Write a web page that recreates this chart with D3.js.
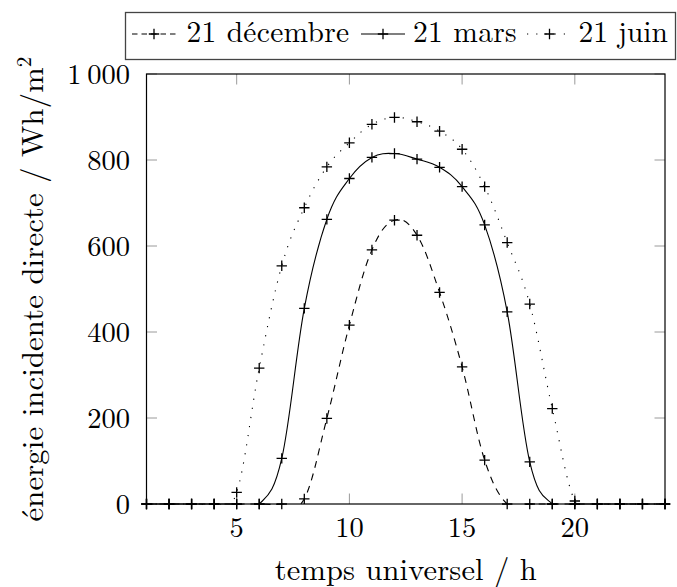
<!DOCTYPE html>
<html><head><meta charset="utf-8">
<script src="https://cdn.jsdelivr.net/npm/d3@7"></script>
<style>body{margin:0;background:#fff}svg{display:block}</style>
</head><body>
<svg id="c" width="677" height="587"></svg>
<script>
// ---- data ----
const hours    = [1,2,3,4,5,6,7,8,9,10,11,12,13,14,15,16,17,18,19,20,21,22,23,24];
const decembre = [0,0,0,0,0,0,0,12,199,416,591,660,625,492,319,102,0,0,0,0,0,0,0,0];
const mars     = [0,0,0,0,0,0,106,455,662,757,806,815,802,783,738,649,447,98,0,0,0,0,0,0];
const juin     = [0,0,0,0,27,316,554,689,784,840,883,899,889,867,825,738,608,465,222,7,0,0,0,0];
const seriesNames = ["21 décembre","21 mars","21 juin"];
const xTicks = [5,10,15,20];
const xTickLabels = ["5","10","15","20"];
const yTicks = [0,200,400,600,800,1000];
const yTickLabels = ["0","200","400","600","800","1\u2009000"];
const xLabel = "temps universel / h";
const yLabel = "énergie incidente directe / Wh/m";
const yLabelSup = "2";

// ---- layout ----
const L = 146.5, R = 665, T = 74, B = 504;
const FONT = '"Latin Modern Roman","CMU Serif","Liberation Serif",serif';
const svg = d3.select("#c");
const x = d3.scaleLinear().domain([1,24]).range([L,R]);
const y = d3.scaleLinear().domain([0,1000]).range([B,T]);

const styles = [
  {dash:"7,6"},
  {dash:null},
  {dash:"1.2,8"}
];
const allSeries = [decembre, mars, juin].map((vals,i)=>({
  name: seriesNames[i], style: styles[i],
  pts: hours.map((h,j)=>({h, v: vals[j]}))
}));

function txt(sel, size){
  return sel.append("text").style("font-family",FONT).style("font-size",size+"px").attr("fill","#000");
}
function fit(sel, w, n){
  n = n || sel.text().length;
  const len = sel.node().getComputedTextLength();
  sel.attr("letter-spacing", ((w - len) / n).toFixed(3));
}

// grey ticks (inward, both sides)
const TL = 10.5, tickCol = "#9a9a9a";
const g = svg.append("g");
xTicks.forEach(t=>{
  g.append("line").attr("x1",x(t)).attr("x2",x(t)).attr("y1",B).attr("y2",B-TL).attr("stroke",tickCol).attr("stroke-width",1);
  g.append("line").attr("x1",x(t)).attr("x2",x(t)).attr("y1",T).attr("y2",T+TL).attr("stroke",tickCol).attr("stroke-width",1);
});
yTicks.forEach(t=>{
  g.append("line").attr("x1",L).attr("x2",L+TL).attr("y1",y(t)).attr("y2",y(t)).attr("stroke",tickCol).attr("stroke-width",1);
  g.append("line").attr("x1",R).attr("x2",R-TL).attr("y1",y(t)).attr("y2",y(t)).attr("stroke",tickCol).attr("stroke-width",1);
});

// clip
svg.append("clipPath").attr("id","clip").append("rect")
  .attr("x",L).attr("y",T).attr("width",R-L).attr("height",B-T+1);

const line = d3.line().x(d=>x(d.h)).y(d=>y(d.v)).curve(d3.curveCardinal.tension(-0.1));
const lg = svg.append("g").attr("clip-path","url(#clip)");
allSeries.forEach(s=>{
  lg.append("path").attr("d",line(s.pts)).attr("fill","none")
    .attr("stroke","#000").attr("stroke-width",1.1)
    .attr("stroke-dasharray",s.style.dash);
});

// frame
svg.append("rect").attr("x",L).attr("y",T).attr("width",R-L).attr("height",B-T)
  .attr("fill","none").attr("stroke","#000").attr("stroke-width",1.2);

// markers
const M = 5.2;
function plus(sel, cx, cy){
  sel.append("path").attr("d",`M${cx-M},${cy}H${cx+M}M${cx},${cy-M}V${cy+M}`)
    .attr("stroke","#000").attr("stroke-width",1.3).attr("fill","none");
}
const mg = svg.append("g");
allSeries.forEach(s=>{ s.pts.forEach(p=>plus(mg, x(p.h), y(p.v))); });

// tick labels
xTicks.forEach((t,i)=>{
  txt(svg,28.5).attr("x",x(t)).attr("y",537).attr("text-anchor","middle").text(xTickLabels[i]);
});
yTicks.forEach((t,i)=>{
  txt(svg,28.5).attr("x",130).attr("y",y(t)+9.5).attr("text-anchor","end").text(yTickLabels[i]);
});

// axis labels
const xl = txt(svg,30.5).attr("x",(L+R)/2).attr("y",579.5).attr("text-anchor","middle").text(xLabel);
fit(xl, 262);
const yl = txt(svg,30.5).attr("transform",`translate(43,${(T+B)/2}) rotate(-90)`)
  .attr("text-anchor","middle");
yl.append("tspan").text(yLabel);
yl.append("tspan").style("font-size","21px").attr("dy",-12).text(yLabelSup);
fit(yl, 465, (yLabel+yLabelSup).length);

// legend
svg.append("rect").attr("x",125.5).attr("y",12.5).attr("width",550).attr("height",47)
  .attr("fill","#fff").attr("stroke","#444").attr("stroke-width",1.3);
const legPos = [
  {x0:132, x1:176, tx:186.5, tw:163},
  {x0:361, x1:405, tx:413, tw:104},
  {x0:527, x1:572, tx:578.5, tw:89.5}
];
const ly = 34;
allSeries.forEach((s,i)=>{
  const p = legPos[i];
  svg.append("line").attr("x1",p.x0).attr("x2",p.x1).attr("y1",ly).attr("y2",ly)
    .attr("stroke","#000").attr("stroke-width",1.1).attr("stroke-dasharray",
      i===0 ? "5.5,4" : s.style.dash);
  plus(svg, (p.x0+p.x1)/2, ly);
  const t = txt(svg,29.5).attr("x",p.tx).attr("y",42).text(s.name);
  fit(t, p.tw);
});
</script>
</body></html>
